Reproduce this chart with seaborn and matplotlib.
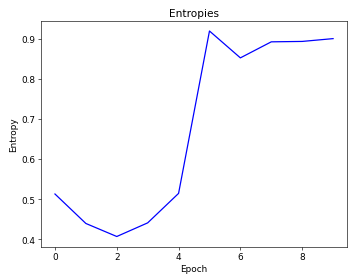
import matplotlib

matplotlib.use("Agg")
import matplotlib.pyplot as plt
import seaborn as sns

epochs = [0, 1, 2, 3, 4, 5, 6, 7, 8, 9]
entropies = [0.5125, 0.439, 0.4065, 0.4405, 0.514, 0.919, 0.852, 0.892, 0.893, 0.900]

plt.rcParams["font.size"] = 11.5

fig, ax = plt.subplots(figsize=(6.4, 4.93), dpi=55.78)
sns.lineplot(x=epochs, y=entropies, color="blue", linewidth=1.6, ax=ax)
ax.set_title("Entropies", fontsize=13.5)
ax.set_xlabel("Epoch", fontsize=11.5)
ax.set_ylabel("Entropy", fontsize=11.5)
ax.tick_params(labelsize=11.5)

fig.subplots_adjust(left=0.115, right=0.972, top=0.921, bottom=0.099)
fig.savefig("out.png", dpi=55.78)
